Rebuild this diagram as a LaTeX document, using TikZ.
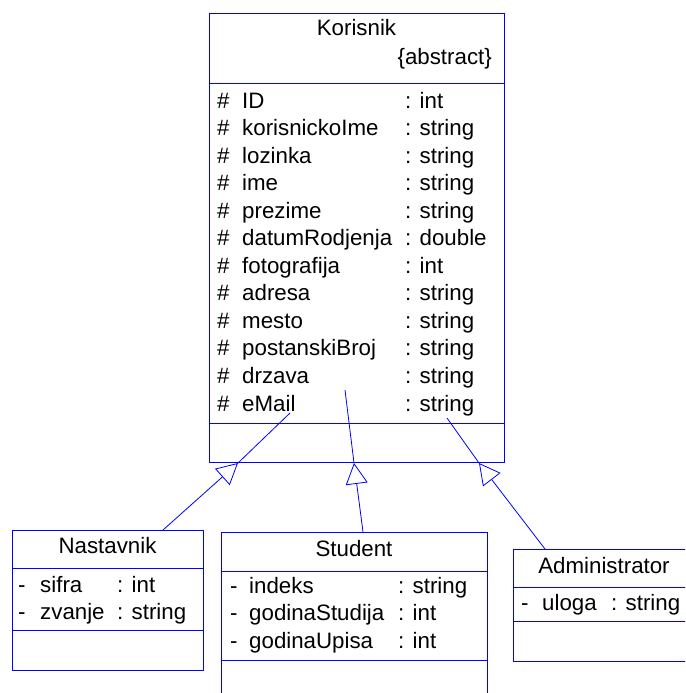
\documentclass[tikz,border=0pt]{standalone}
\usepackage{fontspec}
\setmainfont{Liberation Sans}
\usetikzlibrary{arrows.meta}
\begin{document}
\begin{tikzpicture}[x=1pt,y=-1pt,
  umlbox/.style={draw=blue, line width=1pt, inner sep=0pt, anchor=north west},
  txt/.style={inner sep=0pt, anchor=base west, font=\fontsize{22.3}{26}\selectfont},
  ttl/.style={inner sep=0pt, anchor=base, font=\fontsize{22.3}{26}\selectfont},
  sep/.style={draw=blue, line width=1pt},
  inh/.style={draw=blue, line width=0.8pt, -{Triangle[open, length=21pt, width=22pt]}},
  conn/.style={draw=blue, line width=0.8pt},
  ]
\useasboundingbox (0,0) rectangle (685,693);
\clip (0,0) rectangle (685,693);

% ---- Korisnik (abstract base class) ----
\node[umlbox, minimum width=295pt, minimum height=449pt] (kor) at (209,13) {};
\draw[sep] ([yshift=-70pt]kor.north west) -- ([yshift=-70pt]kor.north east);
\draw[sep] ([yshift=-410pt]kor.north west) -- ([yshift=-410pt]kor.north east);
\node[ttl] (korName) at (356.5,36) {Korisnik};
\node[txt, anchor=base east] (korAbs) at (492,65) {\{abstract\}};
\foreach \n/\t [count=\i from 0] in {ID/int, korisnickoIme/string, lozinka/string,
    ime/string, prezime/string, datumRodjenja/double, fotografija/int,
    adresa/string, mesto/string, postanskiBroj/string, drzava/string, eMail/string} {
  \node[txt] (kh\i) at (217,{108+27.55*\i}) {\#};
  \node[txt] (kn\i) at (242,{108+27.55*\i}) {\n};
  \node[txt] (kt\i) at (405,{108+27.55*\i}) {: \t};
}

% ---- Nastavnik ----
\node[umlbox, minimum width=191pt, minimum height=140pt] (nast) at (12,530) {};
\draw[sep] ([yshift=-38pt]nast.north west) -- ([yshift=-38pt]nast.north east);
\draw[sep] ([yshift=-100pt]nast.north west) -- ([yshift=-100pt]nast.north east);
\node[ttl] (nastName) at (107.5,553) {Nastavnik};
\foreach \n/\t [count=\i from 0] in {sifra/int, zvanje/string} {
  \node[txt] (nh\i) at (18,{592+27.2*\i}) {-};
  \node[txt] (nn\i) at (40,{592+27.2*\i}) {\n};
  \node[txt] (nt\i) at (117,{592+27.2*\i}) {: \t};
}

% ---- Student ----
\node[umlbox, minimum width=266pt, minimum height=188pt] (stud) at (221,532) {};
\draw[sep] ([yshift=-39pt]stud.north west) -- ([yshift=-39pt]stud.north east);
\draw[sep] ([yshift=-128pt]stud.north west) -- ([yshift=-128pt]stud.north east);
\node[ttl] (studName) at (354,556) {Student};
\foreach \n/\t [count=\i from 0] in {indeks/string, godinaStudija/int, godinaUpisa/int} {
  \node[txt] (sh\i) at (230,{593+27.5*\i}) {-};
  \node[txt] (sn\i) at (249,{593+27.5*\i}) {\n};
  \node[txt] (st\i) at (398,{593+27.5*\i}) {: \t};
}

% ---- Administrator ----
\node[umlbox, minimum width=182pt, minimum height=112pt] (adm) at (513,549) {};
\draw[sep] ([yshift=-38pt]adm.north west) -- ([yshift=-38pt]adm.north east);
\draw[sep] ([yshift=-72pt]adm.north west) -- ([yshift=-72pt]adm.north east);
\node[ttl] (admName) at (604,573) {Administrator};
\node[txt] (ah0) at (521,610) {-};
\node[txt] (an0) at (542,610) {uloga};
\node[txt] (at0) at (611,610) {: string};

% ---- generalisation arrows ----
\coordinate (tipN) at ([xshift=29pt]kor.south west);
\coordinate (tipS) at ([xshift=145pt]kor.south west);
\coordinate (tipA) at ([xshift=270pt]kor.south west);
\coordinate (inN) at (290,413);
\coordinate (inS) at (345,390);
\coordinate (inA) at (447,418);

\draw[inh] ([xshift=151pt]nast.north west) -- (tipN);
\draw[conn] (tipN) -- (inN);
\draw[inh] ([xshift=142pt]stud.north west) -- (tipS);
\draw[conn] (tipS) -- (inS);
\draw[inh] ([xshift=32pt]adm.north west) -- (tipA);
\draw[conn] (tipA) -- (inA);
\end{tikzpicture}
\end{document}
